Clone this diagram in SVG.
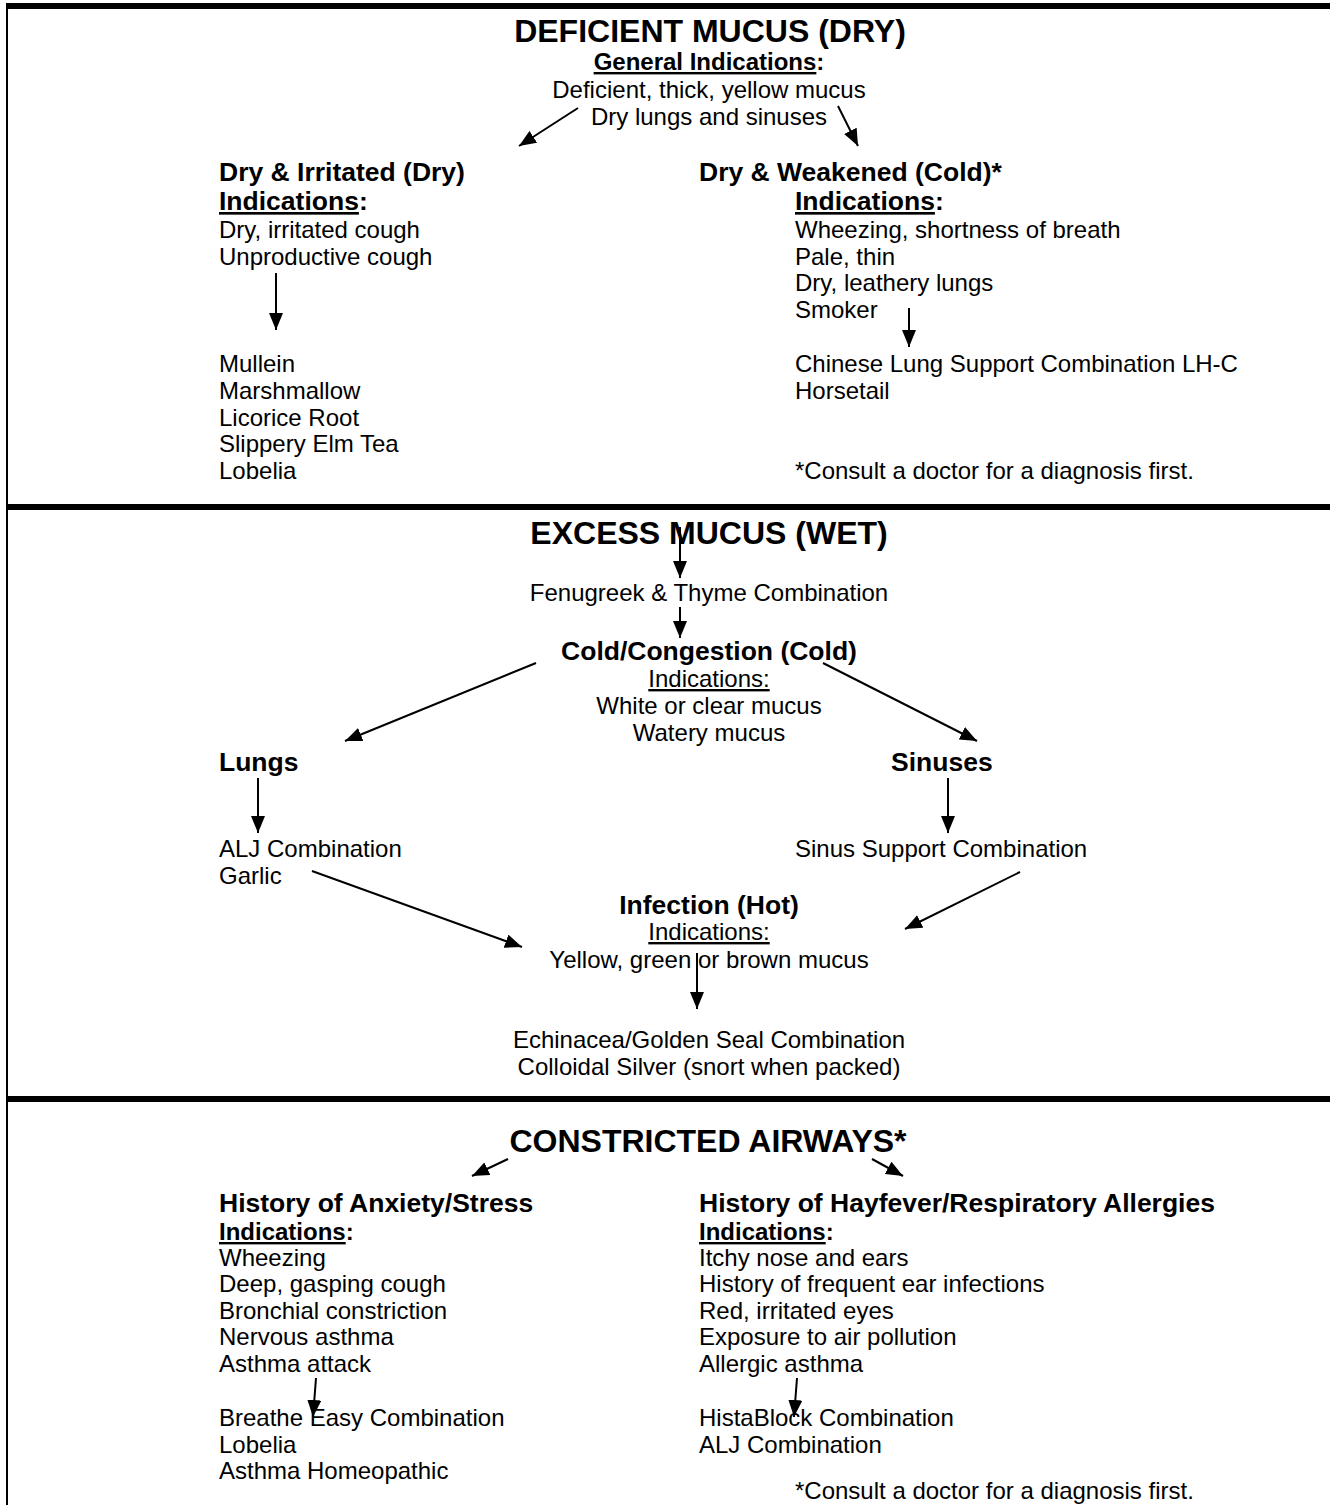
<svg xmlns="http://www.w3.org/2000/svg" width="1330" height="1505" viewBox="0 0 1330 1505">
<defs>
<style>
text{font-family:"Liberation Sans",Arial,sans-serif;fill:#000}
.t{font-size:32px;font-weight:bold;text-anchor:middle}
.h{font-size:26.5px;font-weight:bold}
.b{font-size:24px}
.bb{font-size:24px;font-weight:bold}
.c{text-anchor:middle}
.u{text-decoration:underline}
.con{stroke:#000;stroke-width:2;fill:none;marker-end:url(#ah)}
</style>
<marker id="ah" markerUnits="userSpaceOnUse" markerWidth="18" markerHeight="14" refX="17" refY="7" orient="auto">
<path d="M0,0 L17,7 L0,14 z" fill="#000"/>
</marker>
</defs>
<rect width="1330" height="1505" fill="#fff"/>
<g id="frame">
<rect x="6" y="3" width="1324" height="6" fill="#000"/>
<rect x="6" y="3" width="2" height="1502" fill="#000"/>
<rect x="6" y="504" width="1324" height="6" fill="#000"/>
<rect x="6" y="1096" width="1324" height="6" fill="#000"/>
</g>
<g id="deficient">
<text class="t" x="710" y="42">DEFICIENT MUCUS (DRY)</text>
<text class="bb c" x="709" y="70"><tspan class="u">General Indications</tspan>:</text>
<text class="b c" x="709" y="98">Deficient, thick, yellow mucus</text>
<text class="b c" x="709" y="125">Dry lungs and sinuses</text>
</g>
<g id="dry-irritated">
<text class="h" x="219" y="181">Dry &amp; Irritated (Dry)</text>
<text class="h" x="219" y="210"><tspan class="u">Indications</tspan>:</text>
<text class="b" x="219" y="238">Dry, irritated cough</text>
<text class="b" x="219" y="265">Unproductive cough</text>
</g>
<g id="dry-irritated-remedies">
<text class="b" x="219" y="372">Mullein</text>
<text class="b" x="219" y="399">Marshmallow</text>
<text class="b" x="219" y="426">Licorice Root</text>
<text class="b" x="219" y="452">Slippery Elm Tea</text>
<text class="b" x="219" y="479">Lobelia</text>
</g>
<g id="dry-weakened">
<text class="h" x="699" y="181">Dry &amp; Weakened (Cold)*</text>
<text class="h" x="795" y="210"><tspan class="u">Indications</tspan>:</text>
<text class="b" x="795" y="238">Wheezing, shortness of breath</text>
<text class="b" x="795" y="265">Pale, thin</text>
<text class="b" x="795" y="291">Dry, leathery lungs</text>
<text class="b" x="795" y="318">Smoker</text>
</g>
<g id="dry-weakened-remedies">
<text class="b" x="795" y="372">Chinese Lung Support Combination LH-C</text>
<text class="b" x="795" y="399">Horsetail</text>
<text class="b" x="795" y="479">*Consult a doctor for a diagnosis first.</text>
</g>
<g id="excess">
<text class="t" x="709" y="544">EXCESS MUCUS (WET)</text>
</g>
<g id="fenugreek">
<text class="b c" x="709" y="601">Fenugreek &amp; Thyme Combination</text>
</g>
<g id="cold-congestion">
<text class="h c" x="709" y="660">Cold/Congestion (Cold)</text>
<text class="b c" x="709" y="687"><tspan class="u">Indications:</tspan></text>
<text class="b c" x="709" y="714">White or clear mucus</text>
<text class="b c" x="709" y="741">Watery mucus</text>
</g>
<g id="lungs">
<text class="h" x="219" y="771">Lungs</text>
</g>
<g id="sinuses">
<text class="h" x="891" y="771">Sinuses</text>
</g>
<g id="lungs-remedies">
<text class="b" x="219" y="857">ALJ Combination</text>
<text class="b" x="219" y="884">Garlic</text>
</g>
<g id="sinus-remedies">
<text class="b" x="795" y="857">Sinus Support Combination</text>
</g>
<g id="infection">
<text class="h c" x="709" y="914">Infection (Hot)</text>
<text class="b c" x="709" y="940"><tspan class="u">Indications:</tspan></text>
<text class="b c" x="709" y="968">Yellow, green or brown mucus</text>
</g>
<g id="infection-remedies">
<text class="b c" x="709" y="1048">Echinacea/Golden Seal Combination</text>
<text class="b c" x="709" y="1075">Colloidal Silver (snort when packed)</text>
</g>
<g id="constricted">
<text class="t" x="708" y="1152">CONSTRICTED AIRWAYS*</text>
</g>
<g id="anxiety">
<text class="h" x="219" y="1212">History of Anxiety/Stress</text>
<text class="bb" x="219" y="1240"><tspan class="u">Indications</tspan>:</text>
<text class="b" x="219" y="1266">Wheezing</text>
<text class="b" x="219" y="1292">Deep, gasping cough</text>
<text class="b" x="219" y="1319">Bronchial constriction</text>
<text class="b" x="219" y="1345">Nervous asthma</text>
<text class="b" x="219" y="1372">Asthma attack</text>
</g>
<g id="anxiety-remedies">
<text class="b" x="219" y="1426">Breathe Easy Combination</text>
<text class="b" x="219" y="1453">Lobelia</text>
<text class="b" x="219" y="1479">Asthma Homeopathic</text>
</g>
<g id="hayfever">
<text class="h" x="699" y="1212">History of Hayfever/Respiratory Allergies</text>
<text class="bb" x="699" y="1240"><tspan class="u">Indications</tspan>:</text>
<text class="b" x="699" y="1266">Itchy nose and ears</text>
<text class="b" x="699" y="1292">History of frequent ear infections</text>
<text class="b" x="699" y="1319">Red, irritated eyes</text>
<text class="b" x="699" y="1345">Exposure to air pollution</text>
<text class="b" x="699" y="1372">Allergic asthma</text>
</g>
<g id="hayfever-remedies">
<text class="b" x="699" y="1426">HistaBlock Combination</text>
<text class="b" x="699" y="1453">ALJ Combination</text>
<text class="b" x="795" y="1499">*Consult a doctor for a diagnosis first.</text>
</g>
<g id="connectors">
<line class="con" x1="578" y1="108" x2="519" y2="146"/>
<line class="con" x1="838" y1="106" x2="858" y2="146"/>
<line class="con" x1="276" y1="273" x2="276" y2="330"/>
<line class="con" x1="909" y1="308" x2="909" y2="347"/>
<line class="con" x1="680" y1="527" x2="680" y2="578"/>
<line class="con" x1="680" y1="607" x2="680" y2="638"/>
<line class="con" x1="536" y1="663" x2="345" y2="741"/>
<line class="con" x1="823" y1="663" x2="977" y2="741"/>
<line class="con" x1="258" y1="778" x2="258" y2="833"/>
<line class="con" x1="948" y1="778" x2="948" y2="833"/>
<line class="con" x1="312" y1="871" x2="522" y2="947"/>
<line class="con" x1="1020" y1="872" x2="905" y2="929"/>
<line class="con" x1="697" y1="953" x2="697" y2="1009"/>
<line class="con" x1="508" y1="1159" x2="472" y2="1176"/>
<line class="con" x1="872" y1="1159" x2="903" y2="1176"/>
<line class="con" x1="316" y1="1378" x2="313" y2="1417"/>
<line class="con" x1="797" y1="1378" x2="794" y2="1417"/>
</g>
</svg>
